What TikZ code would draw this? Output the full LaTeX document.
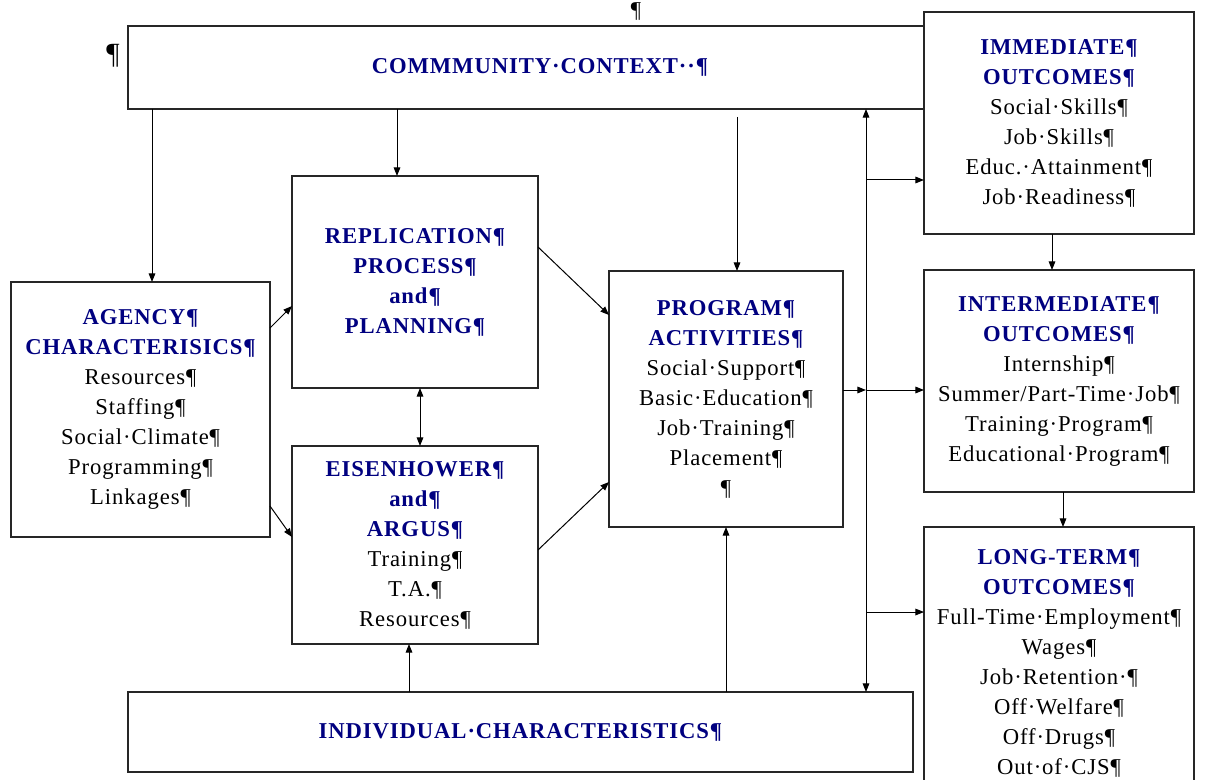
\documentclass[tikz,border=0pt]{standalone}
\usepackage{fontspec}
\usetikzlibrary{arrows.meta}
\newfontfamily\boxfont{Liberation Serif}[LetterSpace=4]
\definecolor{headblue}{HTML}{000080}
\newcommand{\hd}[1]{{\fontsize{17}{22.5}\selectfont\bfseries\color{headblue}#1}}
\tikzset{
  box/.style={draw=black!85, line width=0.9pt, fill=white, rectangle, align=center,
    inner sep=0pt, outer sep=0pt, font=\boxfont\fontsize{17}{22.5}\selectfont},
  arr/.style={-{Triangle[length=6.5pt,width=5pt]}, line width=0.75pt},
  dblarr/.style={{Triangle[length=6.5pt,width=5pt]}-{Triangle[length=6.5pt,width=5pt]}, line width=0.75pt},
  pilcrow/.style={font=\boxfont\fontsize{17}{18}\selectfont, inner sep=0pt}
}

\begin{document}
\begin{tikzpicture}[x=0.75pt, y=-0.75pt]%
\useasboundingbox (0,0) rectangle (1206,780);%
\clip (0,0) rectangle (1206,780);%
% context boxes
\node[box, minimum width=618pt, minimum height=62.25pt] (comm) at (540, 67.5) {\hd{COMMMUNITY·CONTEXT··¶}};%
\node[box, minimum width=588.75pt, minimum height=60pt] (indiv) at (520.5, 732) {\hd{INDIVIDUAL·CHARACTERISTICS¶}};%
% outcome boxes
\node[box, minimum width=202.5pt, minimum height=166.5pt] (imm) at (1059, 123) {\hd{IMMEDIATE¶}\\ \hd{OUTCOMES¶}\\ Social·Skills¶\\ Job·Skills¶\\ Educ.·Attainment¶\\ Job·Readiness¶};%
\node[box, minimum width=202.5pt, minimum height=166.5pt] (inter) at (1059, 381) {\hd{INTERMEDIATE¶}\\ \hd{OUTCOMES¶}\\ Internship¶\\ Summer/Part-Time·Job¶\\ Training·Program¶\\ Educational·Program¶};%
\node[box, minimum width=202.5pt, minimum height=204.75pt] (longt) at (1059, 663.5) {\hd{LONG-TERM¶}\\ \hd{OUTCOMES¶}\\ Full-Time·Employment¶\\ Wages¶\\ Job·Retention·¶\\ Off·Welfare¶\\ Off·Drugs¶\\ Out·of·CJS¶};%
% agency, replication, eisenhower, program
\node[box, minimum width=194.25pt, minimum height=191.25pt] (agency) at (140.5, 409.5) {\hd{AGENCY¶}\\ \hd{CHARACTERISICS¶}\\ Resources¶\\ Staffing¶\\ Social·Climate¶\\ Programming¶\\ Linkages¶};%
\node[box, minimum width=184.5pt, minimum height=159pt] (repl) at (415, 282) {\hd{REPLICATION¶}\\ \hd{PROCESS¶}\\ \hd{and¶}\\ \hd{PLANNING¶}};%
\node[box, minimum width=184.5pt, minimum height=148.5pt] (eisen) at (415, 545) {\hd{EISENHOWER¶}\\ \hd{and¶}\\ \hd{ARGUS¶}\\ Training¶\\ T.A.¶\\ Resources¶};%
\node[box, minimum width=175.5pt, minimum height=192pt] (prog) at (726, 399) {\hd{PROGRAM¶}\\ \hd{ACTIVITIES¶}\\ Social·Support¶\\ Basic·Education¶\\ Job·Training¶\\ Placement¶\\ ¶};%
% stray paragraph marks
\node[pilcrow] (pmtop) at (636, 12) {¶};%
\node[pilcrow, font=\boxfont\fontsize{22}{24}\selectfont] (pmleft) at (113, 56) {¶};%
% arrows from the context
\draw[arr] ([xshift=8.625pt]agency.north |- comm.south) -- ([xshift=8.625pt]agency.north);%
\draw[arr] ([xshift=-13.5pt]repl.north |- comm.south) -- ([xshift=-13.5pt]repl.north);%
\draw[arr] ([xshift=8.25pt,yshift=-6pt]prog.north |- comm.south) -- ([xshift=8.25pt]prog.north);%
\draw[arr] ([xshift=-4.5pt]eisen.south |- indiv.north) -- ([xshift=-4.5pt]eisen.south);%
\draw[arr] (prog.south |- indiv.north) -- (prog.south);%
% middle arrows
\draw[arr] ([yshift=61.1pt]agency.east) -- ([yshift=-18pt]repl.west);%
\draw[arr] ([yshift=-72.4pt]agency.east) -- ([yshift=6pt]eisen.west);%
\draw[dblarr] ([xshift=3.75pt]repl.south) -- ([xshift=3.75pt]eisen.north);%
\draw[arr] ([yshift=26.25pt]repl.east) -- ([yshift=63pt]prog.west);%
\draw[arr] ([yshift=-3.75pt]eisen.east) -- ([yshift=-62.25pt]prog.west);%
% outcome bus
\coordinate (bus) at (866, 400);%
\draw[dblarr] (bus |- comm.south) -- (bus |- indiv.north);%
\draw[arr] ([yshift=6.75pt]prog.east) -- ([yshift=6.75pt]prog.east -| bus);%
\draw[arr] ([yshift=6.75pt]prog.east -| bus) -- ([yshift=6.75pt]prog.east -| inter.west);%
\draw[arr] ([yshift=-42.75pt]imm.west -| bus) -- ([yshift=-42.75pt]imm.west);%
\draw[arr] ([yshift=38.6pt]longt.west -| bus) -- ([yshift=38.6pt]longt.west);%
\draw[arr] ([xshift=-5.25pt]imm.south) -- ([xshift=-5.25pt]inter.north);%
\draw[arr] ([xshift=3pt]inter.south) -- ([xshift=3pt]longt.north);%
\end{tikzpicture}
\end{document}
